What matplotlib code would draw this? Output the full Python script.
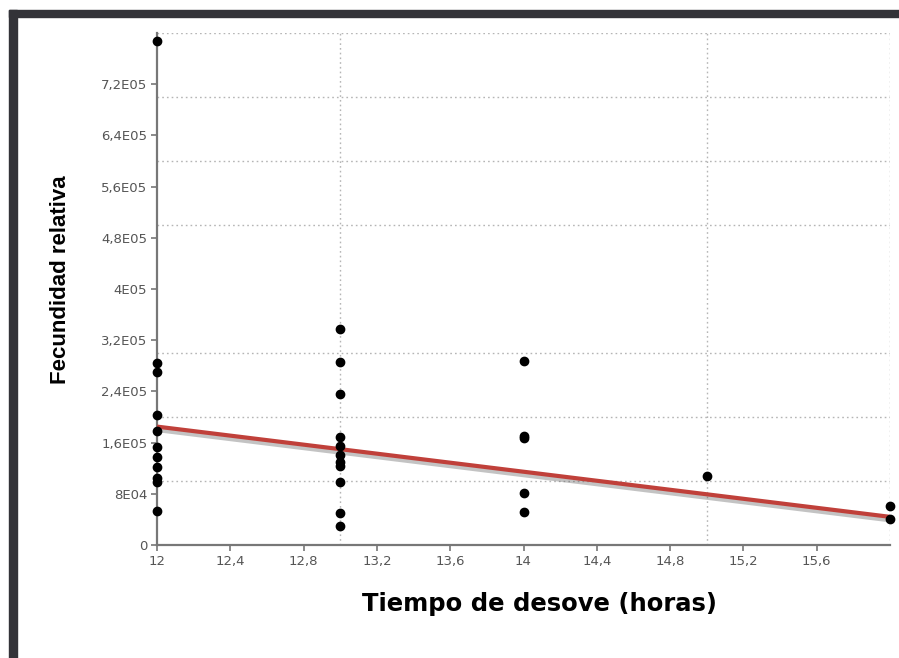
import numpy as np
import matplotlib.pyplot as plt
import matplotlib.patheffects as pe
from matplotlib.patches import Rectangle

# Data
hours = [12] * 11 + [13] * 11 + [14] * 5 + [15] + [16, 16]
fecundity = [
    787500, 284800, 269800, 203100, 178600, 153600, 138000, 121900, 104700, 98000, 53600,
    337500, 286400, 235900, 168300, 154700, 140600, 129700, 123400, 98000, 49500, 29700,
    287500, 170000, 166500, 81700, 52000,
    107800,
    60900, 40100,
]
fit_x = [12, 16]
fit_y = [185000, 44000]

x_ticks = [12, 12.4, 12.8, 13.2, 13.6, 14, 14.4, 14.8, 15.2, 15.6]
x_tick_labels = ['12', '12,4', '12,8', '13,2', '13,6', '14', '14,4', '14,8', '15,2', '15,6']
y_ticks = [0, 8e4, 1.6e5, 2.4e5, 3.2e5, 4e5, 4.8e5, 5.6e5, 6.4e5, 7.2e5]
y_tick_labels = ['0', '8E04', '1,6E05', '2,4E05', '3,2E05', '4E05', '4,8E05', '5,6E05', '6,4E05', '7,2E05']
x_grid = [13, 14, 15, 16]
y_grid = [1e5, 2e5, 3e5, 4e5, 5e5, 6e5, 7e5, 8e5]

W, H = 899, 658
fig = plt.figure(figsize=(W / 100, H / 100), dpi=100)
ax = fig.add_axes([157 / W, 1 - 545 / H, (890 - 157) / W, (545 - 33) / H])

# dark frame on top and left
fig.patches.append(Rectangle((9 / W, 1 - 17 / H), 1, 7 / H, transform=fig.transFigure,
                             color='#333338', zorder=0))
fig.patches.append(Rectangle((9 / W, 0), 8 / W, 1 - 10 / H, transform=fig.transFigure,
                             color='#333338', zorder=0))

ax.set_xlim(12, 16)
ax.set_ylim(0, 8e5)

# dotted grid on its own (minor) positions
ax.set_xticks(x_grid, minor=True)
ax.set_yticks(y_grid, minor=True)
ax.grid(which='minor', color='#b5b5b5', linestyle=(0, (1.2, 2.2)), linewidth=1)
ax.tick_params(which='minor', length=0)

ax.set_xticks(x_ticks)
ax.set_xticklabels(x_tick_labels)
ax.set_yticks(y_ticks)
ax.set_yticklabels(y_tick_labels)
ax.tick_params(which='major', direction='out', length=4, width=1.2, color='#777777',
               labelcolor='#555555', labelsize=9.5, pad=3)

for side in ['top', 'right']:
    ax.spines[side].set_visible(False)
for side in ['left', 'bottom']:
    ax.spines[side].set_color('#777777')
    ax.spines[side].set_linewidth(1.6)

ax.plot(fit_x, fit_y, color='#c0403a', linewidth=3, solid_capstyle='butt', zorder=3,
        path_effects=[pe.SimpleLineShadow(offset=(0, -2.5), shadow_color='#555555', alpha=0.35),
                      pe.Normal()])
ax.plot(hours, fecundity, 'o', color='black', markersize=6, zorder=4, clip_on=False)

fig.text(540 / W, 1 - 604 / H, 'Tiempo de desove (horas)', ha='center', va='center',
         fontsize=17.5, fontweight='bold', family='DejaVu Sans')
fig.text(61 / W, 1 - 280 / H, 'Fecundidad relativa', ha='center', va='center', rotation=90,
         fontsize=16, fontweight='bold', family='Liberation Sans')

fig.savefig('out.png', dpi=100)
